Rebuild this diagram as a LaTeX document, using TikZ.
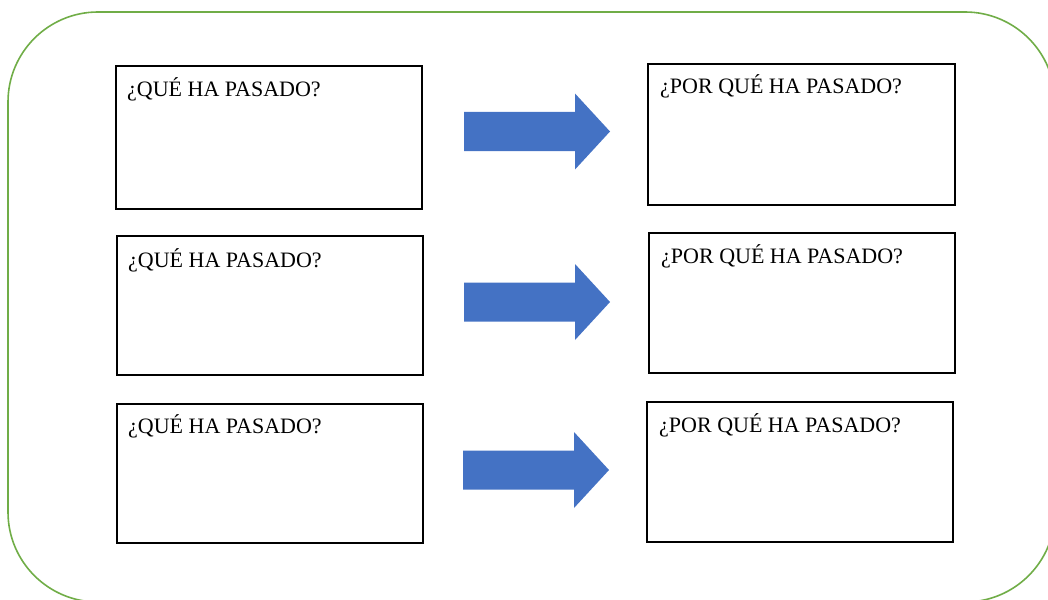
\documentclass[tikz,border=0pt]{standalone}
\usepackage{fontspec}
\setmainfont{Liberation Serif}
\definecolor{framegreen}{RGB}{112,173,71}
\definecolor{arrowblue}{RGB}{68,114,196}
\begin{document}
\begin{tikzpicture}[x=1pt,y=-1pt,
  frame/.style={draw=framegreen, line width=1.6pt, rounded corners=90pt},
  answerbox/.style={draw=black, line width=2pt, rectangle, anchor=north west,
    inner sep=0pt, minimum width=306pt},
  prompt/.style={anchor=base west, inner sep=0pt,
    font=\fontsize{22}{26}\selectfont},
  bigarrow/.style={fill=arrowblue, draw=none}]
\useasboundingbox (0,0) rectangle (1048,599);
\clip (0,0) rectangle (1048,599);

% outer green frame (runs past the right and bottom edges)
\draw[frame] (8,12) rectangle (1055,602);

% left column: what happened
\node[answerbox, minimum height=143pt] (q1) at (115,65) {};
\node[answerbox, minimum height=139pt] (q2) at (116,235) {};
\node[answerbox, minimum height=139pt] (q3) at (116,403) {};
% right column: why it happened
\node[answerbox, minimum width=307pt, minimum height=141pt] (r1) at (647,63) {};
\node[answerbox, minimum height=140pt] (r2) at (648,232) {};
\node[answerbox, minimum height=140pt] (r3) at (646,401) {};

\node[prompt] (tq1) at ([shift={(12,32)}]q1.north west) {¿QUÉ HA PASADO?};
\node[prompt] (tq2) at ([shift={(12,32)}]q2.north west) {¿QUÉ HA PASADO?};
\node[prompt] (tq3) at ([shift={(12,30)}]q3.north west) {¿QUÉ HA PASADO?};
\node[prompt] (tr1) at ([shift={(13,31)}]r1.north west) {¿POR QUÉ HA PASADO?};
\node[prompt] (tr2) at ([shift={(13,31)}]r2.north west) {¿POR QUÉ HA PASADO?};
\node[prompt] (tr3) at ([shift={(13,31)}]r3.north west) {¿POR QUÉ HA PASADO?};

% block arrows between the columns
\newcommand{\blockarrow}[2]{%
  \fill[bigarrow] (#1,#2-19.5) -- (#1+111,#2-19.5) -- (#1+111,#2-38)
    -- (#1+146,#2) -- (#1+111,#2+38) -- (#1+111,#2+19.5) -- (#1,#2+19.5) -- cycle;}
\blockarrow{464}{131.5}
\blockarrow{464}{302}
\blockarrow{463}{470}
\end{tikzpicture}
\end{document}
